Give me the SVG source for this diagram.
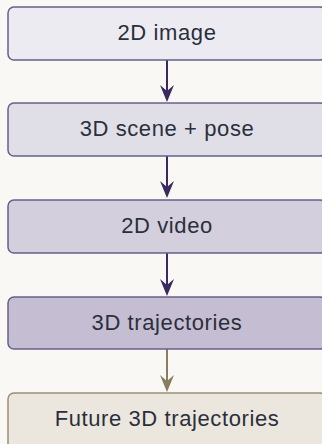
<svg xmlns="http://www.w3.org/2000/svg" width="322" height="444" viewBox="0 0 322 444">
<defs>
<style>
.box{stroke-width:1.5}
.lbl{font-family:"Liberation Sans",Arial,sans-serif;font-size:22px;letter-spacing:0.6px;fill:#2b2f3b;text-anchor:middle}
.conn{fill:none;stroke-width:2}
</style>
<marker id="ahP" markerUnits="userSpaceOnUse" markerWidth="18" markerHeight="14" viewBox="0 0 17 14" refX="6" refY="7" orient="auto">
<path d="M0,0 L17,7 L0,14 L6,7 Z" fill="#3a2a5e"/>
</marker>
<marker id="ahB" markerUnits="userSpaceOnUse" markerWidth="18" markerHeight="14" viewBox="0 0 17 14" refX="6" refY="7" orient="auto">
<path d="M0,0 L17,7 L0,14 L6,7 Z" fill="#8a7d5f"/>
</marker>
</defs>
<rect width="322" height="444" fill="#f9f8f5"/>
<g id="connectors">
<path class="conn" d="M167,60 V91" stroke="#3a2a5e" marker-end="url(#ahP)"/>
<path class="conn" d="M167,156 V187" stroke="#3a2a5e" marker-end="url(#ahP)"/>
<path class="conn" d="M167,253 V285" stroke="#3a2a5e" marker-end="url(#ahP)"/>
<path class="conn" d="M167,349 V381" stroke="#8a7d5f" marker-end="url(#ahB)"/>
</g>
<g id="n1">
<rect class="box" x="8" y="7" width="318" height="53" rx="6" fill="#ecebf2" stroke="#675f8c"/>
<text class="lbl" x="167" y="40">2D image</text>
</g>
<g id="n2">
<rect class="box" x="8" y="103" width="318" height="53" rx="6" fill="#e0dfe7" stroke="#675f8c"/>
<text class="lbl" x="167" y="136">3D scene + pose</text>
</g>
<g id="n3">
<rect class="box" x="8" y="200" width="318" height="53" rx="6" fill="#d3cfdd" stroke="#675f8c"/>
<text class="lbl" x="167" y="233">2D video</text>
</g>
<g id="n4">
<rect class="box" x="8" y="297" width="318" height="52" rx="6" fill="#c5bdd1" stroke="#675f8c"/>
<text class="lbl" x="167" y="330">3D trajectories</text>
</g>
<g id="n5">
<rect class="box" x="8" y="393" width="318" height="60" rx="6" fill="#ebe7de" stroke="#9a8f76"/>
<text class="lbl" x="167" y="426">Future 3D trajectories</text>
</g>
</svg>
